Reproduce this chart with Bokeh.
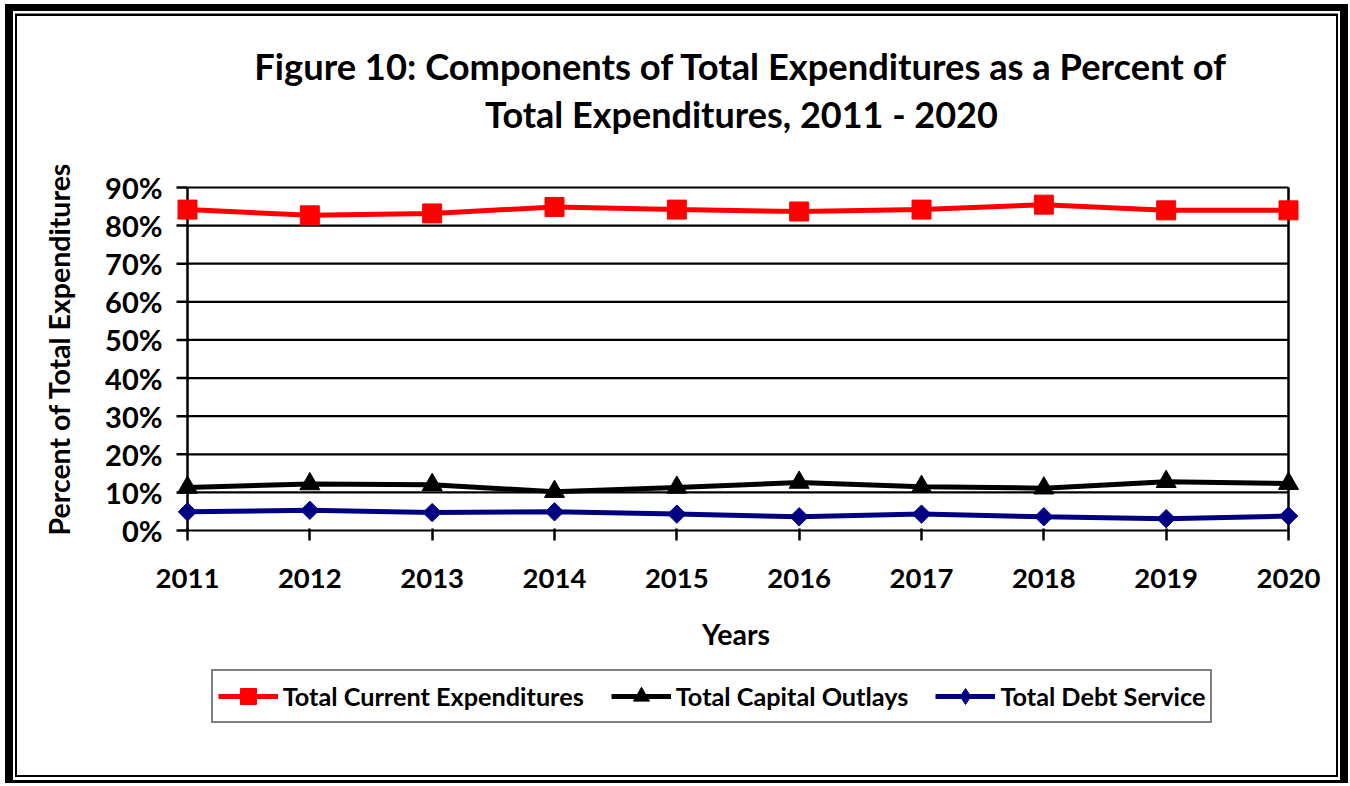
import numpy as np
from bokeh.plotting import figure
from bokeh.models import (Range1d, FixedTicker, NumeralTickFormatter, Legend, LegendItem,
                          Title, Label)
from bokeh.embed import file_html
from bokeh.resources import INLINE

# ---------------- data ----------------
years = [2011, 2012, 2013, 2014, 2015, 2016, 2017, 2018, 2019, 2020]
current_expenditures = [0.842, 0.827, 0.832, 0.849, 0.842, 0.837, 0.842, 0.855, 0.840, 0.840]
capital_outlays = [0.113, 0.122, 0.120, 0.102, 0.113, 0.126, 0.115, 0.111, 0.128, 0.123]
debt_service = [0.049, 0.053, 0.047, 0.049, 0.043, 0.036, 0.043, 0.036, 0.031, 0.038]
y_ticks = [0.0, 0.1, 0.2, 0.3, 0.4, 0.5, 0.6, 0.7, 0.8, 0.9]

title_line1 = "Figure 10:  Components of Total Expenditures as a Percent of"
title_line2 = "Total Expenditures, 2011 - 2020"
x_title = "Years"
y_title = "Percent of Total Expenditures"
series_names = ["Total Current Expenditures", "Total Capital Outlays", "Total Debt Service"]

# ---------------- layout (px) ----------------
W, H = 1350, 786
X0_PX, X1_PX = 187, 1288        # pixel columns of first / last year
Y0_PX, Y9_PX = 530, 187         # pixel rows of 0% / 90%
FL, FR, FT, FB = 145, 1326, 20, 760   # drawing frame
YTICK_PX = 176                  # left end of the y tick marks
YLAB_PX = 162                   # right edge of the y tick labels
kx = (X1_PX - X0_PX) / (years[-1] - years[0])
ky = (Y0_PX - Y9_PX) / (y_ticks[-1] - y_ticks[0])
FONT = "Lato"


def dx(px):
    return years[0] + (px - X0_PX) / kx


def dy(py):
    return y_ticks[0] + (Y0_PX - py) / ky


p = figure(width=W, height=H, output_backend="svg", toolbar_location=None,
           x_range=Range1d(dx(FL), dx(FR)), y_range=Range1d(dy(FB), dy(FT)),
           min_border_left=FL, min_border_right=W - FR,
           min_border_top=FT, min_border_bottom=H - FB,
           title=None)
p.outline_line_color = None
p.background_fill_color = None
p.border_fill_color = None
p.xgrid.visible = False
p.ygrid.visible = False


def strips(color, l, t, r, b):
    return [f"inset {l}px 0 0 0 {color}", f"inset 0 {t}px 0 0 {color}",
            f"inset -{r}px 0 0 0 {color}", f"inset 0 -{b}px 0 0 {color}"]


shadows = (strips("white", 5, 4, 2, 3) + strips("black", 13, 11, 10, 6)
           + strips("white", 15, 13.5, 12, 9) + strips("black", 17, 16, 14, 11))
p.styles = {"background-color": "white", "box-shadow": ", ".join(shadows)}

# x axis, pinned at 0 %
xa = p.xaxis[0]
xa.fixed_location = y_ticks[0]
xa.ticker = FixedTicker(ticks=years)
xa.axis_line_color = None
xa.major_tick_in = 2
xa.major_tick_out = 10
xa.major_tick_line_width = 2.5
xa.major_tick_line_color = "black"
xa.minor_tick_line_color = None
xa.major_label_text_font = FONT
xa.major_label_text_font_style = "bold"
xa.major_label_text_font_size = "27.5px"
xa.major_label_text_color = "black"
xa.major_label_standoff = 28
xa.axis_label = x_title
xa.axis_label_text_font = FONT
xa.axis_label_text_font_style = "bold"
xa.axis_label_text_font_size = "28.5px"
xa.axis_label_text_color = "black"
xa.axis_label_standoff = 26

# y axis (labels only; tick marks drawn below as segments)
ya = p.yaxis[0]
ya.ticker = FixedTicker(ticks=y_ticks)
ya.formatter = NumeralTickFormatter(format="0%")
ya.axis_line_color = None
ya.major_tick_line_color = None
ya.minor_tick_line_color = None
ya.major_tick_in = 0
ya.major_tick_out = 0
ya.major_label_text_font = FONT
ya.major_label_text_font_style = "bold"
ya.major_label_text_font_size = "29px"
ya.major_label_text_color = "black"
ya.major_label_standoff = FL - YLAB_PX

p.add_layout(Title(text=y_title, align="left", offset=FB - 535, standoff=54,
                   text_font=FONT, text_font_style="bold", text_font_size="28.5px",
                   text_color="black"), "left")

# grid lines, y tick marks and plot box edges (data coordinates)
n = len(y_ticks)
p.segment(x0=[years[0]] * n, y0=y_ticks, x1=[years[-1]] * n, y1=y_ticks,
          line_color="black", line_width=2.2)
p.segment(x0=[dx(YTICK_PX)] * n, y0=y_ticks, x1=[years[0]] * n, y1=y_ticks,
          line_color="black", line_width=2.5)
p.segment(x0=[years[0], years[-1]], y0=[y_ticks[0]] * 2,
          x1=[years[0], years[-1]], y1=[y_ticks[-1]] * 2,
          line_color="black", line_width=2.5)

# series
red = "#FF0000"
navy = "#000080"
l1 = p.line(years, current_expenditures, line_color=red, line_width=5)
m1 = p.scatter(years, current_expenditures, marker="square", size=19,
               fill_color=red, line_color=red)
l2 = p.line(years, capital_outlays, line_color="black", line_width=5)
m2 = p.scatter(years, capital_outlays, marker="triangle", size=20,
               fill_color="black", line_color="black")
l3 = p.line(years, debt_service, line_color=navy, line_width=5)
m3 = p.scatter(years, debt_service, marker="square", angle=np.pi / 4, size=13,
               fill_color=navy, line_color=navy)
# legend proxy for the diamond (outside the visible range)
m3p = p.scatter([years[0] - 5], [y_ticks[0]], marker="diamond", size=20,
                fill_color=navy, line_color=navy)

# chart title
for txt, px, py, fs in [(title_line1, 745, 65, "36.3px"), (title_line2, 741, 113, "36px")]:
    p.add_layout(Label(x=dx(px), y=dy(py), text=txt, text_align="center",
                       text_baseline="middle", text_font=FONT, text_font_style="bold",
                       text_font_size=fs, text_color="black"))

legend = Legend(items=[LegendItem(label=series_names[0], renderers=[l1, m1]),
                       LegendItem(label=series_names[1], renderers=[l2, m2]),
                       LegendItem(label=series_names[2], renderers=[l3, m3p])],
                orientation="horizontal", location=(210.7 - FL, FB - 723),
                glyph_width=60, glyph_height=40, label_standoff=5, spacing=27,
                padding=5, margin=0, border_line_color="black", border_line_width=2.5,
                background_fill_color="white", background_fill_alpha=1,
                label_text_font=FONT, label_text_font_style="bold",
                label_text_font_size="25.25px", label_text_color="black")
p.add_layout(legend, "center")

open("out.html", "w").write(file_html(p, INLINE))
